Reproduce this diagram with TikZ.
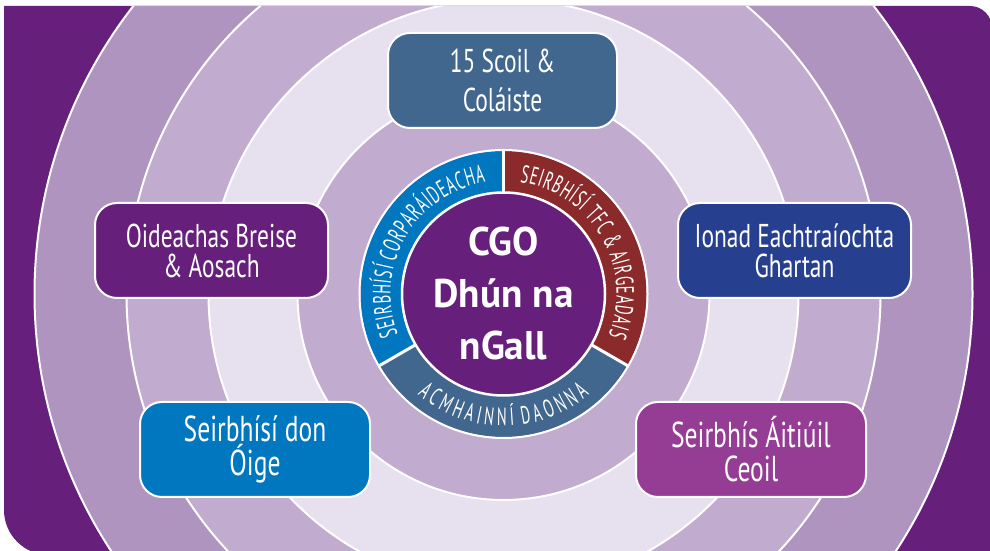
\documentclass[tikz,border=0pt]{standalone}
\usepackage{fontspec}
\setmainfont{PT Sans}[FakeStretch=0.71]
\newfontfamily\centerfont{PT Sans}[FakeStretch=0.98]
\newfontfamily\ringfont{PT Sans}[FakeStretch=0.58]
\newcommand\rk{\kern0.8pt}
\newcommand\bk{\kern3.8pt}
\usetikzlibrary{decorations.text}
\definecolor{dkpurple}{HTML}{661F7A}
\definecolor{bandB}{HTML}{B094C0}
\definecolor{bandA}{HTML}{C1ABCE}
\definecolor{bandP}{HTML}{E7E1EF}
\definecolor{steelblue}{HTML}{41678E}
\definecolor{navyblue}{HTML}{26408F}
\definecolor{brightblue}{HTML}{0077BE}
\definecolor{magentap}{HTML}{953C94}
\definecolor{darkred}{HTML}{8A2A2A}
\begin{document}
\begin{tikzpicture}[x=1pt,y=1pt,
  unitbox/.style={draw=white, line width=2pt, rounded corners=22pt, text=white,
    align=center, minimum width=230pt, minimum height=95pt, inner sep=0pt},
  bandline/.style={draw=white, line width=2pt},
  sepline/.style={draw=white, line width=3pt},
]
\useasboundingbox (0,0) rectangle (990,551);
\coordinate (C) at (503.5,257);
\begin{scope}
  \clip (4,545) -- (970,545) .. controls (982.1,545) and (992,535.1) .. (992,523)
     -- (992,-4) -- (49,-4) .. controls (24.2,-4) and (4,16.2) .. (4,41) -- cycle;
  \fill[dkpurple] (-10,-10) rectangle (1000,560);
  \filldraw[fill=bandB, bandline] (C) circle[radius=469pt];
  \filldraw[fill=bandA, bandline] (C) circle[radius=377pt];
  \filldraw[fill=bandP, bandline] (C) circle[radius=295pt];
  \filldraw[fill=bandA, bandline] (C) circle[radius=206pt];
\end{scope}
% segmented ring
\fill[brightblue] (C) -- ++(90:143pt) arc[start angle=90,end angle=210,radius=143pt] -- cycle;
\fill[steelblue] (C) -- ++(210:143pt) arc[start angle=210,end angle=330,radius=143pt] -- cycle;
\fill[darkred] (C) -- ++(330:143pt) arc[start angle=330,end angle=450,radius=143pt] -- cycle;
\draw[white, line width=2pt] (C) circle[radius=144pt];
\draw[sepline] (C) -- ++(90:145pt);
\draw[sepline] (C) -- ++(210:145pt);
\draw[sepline] (C) -- ++(330:145pt);
\node[circle, fill=dkpurple, draw=white, line width=2.5pt, minimum size=203pt,
  inner sep=0pt, text=white, align=center,
  font=\centerfont\bfseries\fontsize{40}{52}\selectfont] (cgo) at (C) {CGO\\Dhún na\\nGall};
% ring texts
\path (C) ++(210:113pt) coordinate (bs);
\path (C) ++(90:113pt) coordinate (rs);
\path (C) ++(210:132pt) coordinate (ss);
\path[decorate, decoration={text along path, text align=center,
  text={|\ringfont\fontsize{25}{25}\selectfont\color{white}|S{\rk}E{\rk}I{\rk}R{\rk}B{\rk}H{\rk}Í{\rk}S{\rk}Í{\rk} C{\rk}O{\rk}R{\rk}P{\rk}A{\rk}R{\rk}Á{\rk}I{\rk}D{\rk}E{\rk}A{\rk}C{\rk}H{\rk}A}}]
  (bs) arc[start angle=210, end angle=90, radius=113pt];
\path[decorate, decoration={text along path, text align=center,
  text={|\ringfont\fontsize{25}{25}\selectfont\color{white}|S{\rk}E{\rk}I{\rk}R{\rk}B{\rk}H{\rk}Í{\rk}S{\rk}Í{\rk} T{\rk}F{\rk}C{\rk} {\&}{\rk} A{\rk}I{\rk}R{\rk}G{\rk}E{\rk}A{\rk}D{\rk}A{\rk}I{\rk}S}}]
  (rs) arc[start angle=90, end angle=-30, radius=113pt];
\path[decorate, decoration={text along path, text align=center,
  text={|\ringfont\fontsize{25}{25}\selectfont\color{white}|A{\bk}C{\bk}M{\bk}H{\bk}A{\bk}I{\bk}N{\bk}N{\bk}Í{\bk} D{\bk}A{\bk}O{\bk}N{\bk}N{\bk}A}}]
  (ss) arc[start angle=210, end angle=330, radius=132pt];
% unit boxes
\node[unitbox, fill=steelblue, minimum width=229pt,
  font=\fontsize{33}{38.5}\selectfont] (scoil) at (502.5,470.5) {15 Scoil \&\\Coláiste};
\node[unitbox, fill=dkpurple, minimum width=233pt,
  font=\fontsize{33}{30}\selectfont] (oid) at (211.5,300.5) {Oideachas Breise\\\& Aosach};
\node[unitbox, fill=navyblue, minimum width=233pt,
  font=\fontsize{33}{30}\selectfont] (ionad) at (794.5,300.5) {Ionad Eachtraíochta\\Ghartan};
\node[unitbox, fill=brightblue,
  font=\fontsize{36}{34}\selectfont] (oige) at (255,101.5) {Seirbhísí don\\Óige};
\node[unitbox, fill=magentap,
  font=\fontsize{36}{34}\selectfont] (ceoil) at (751,101.5) {Seirbhís Áitiúil\\Ceoil};
\end{tikzpicture}
\end{document}
